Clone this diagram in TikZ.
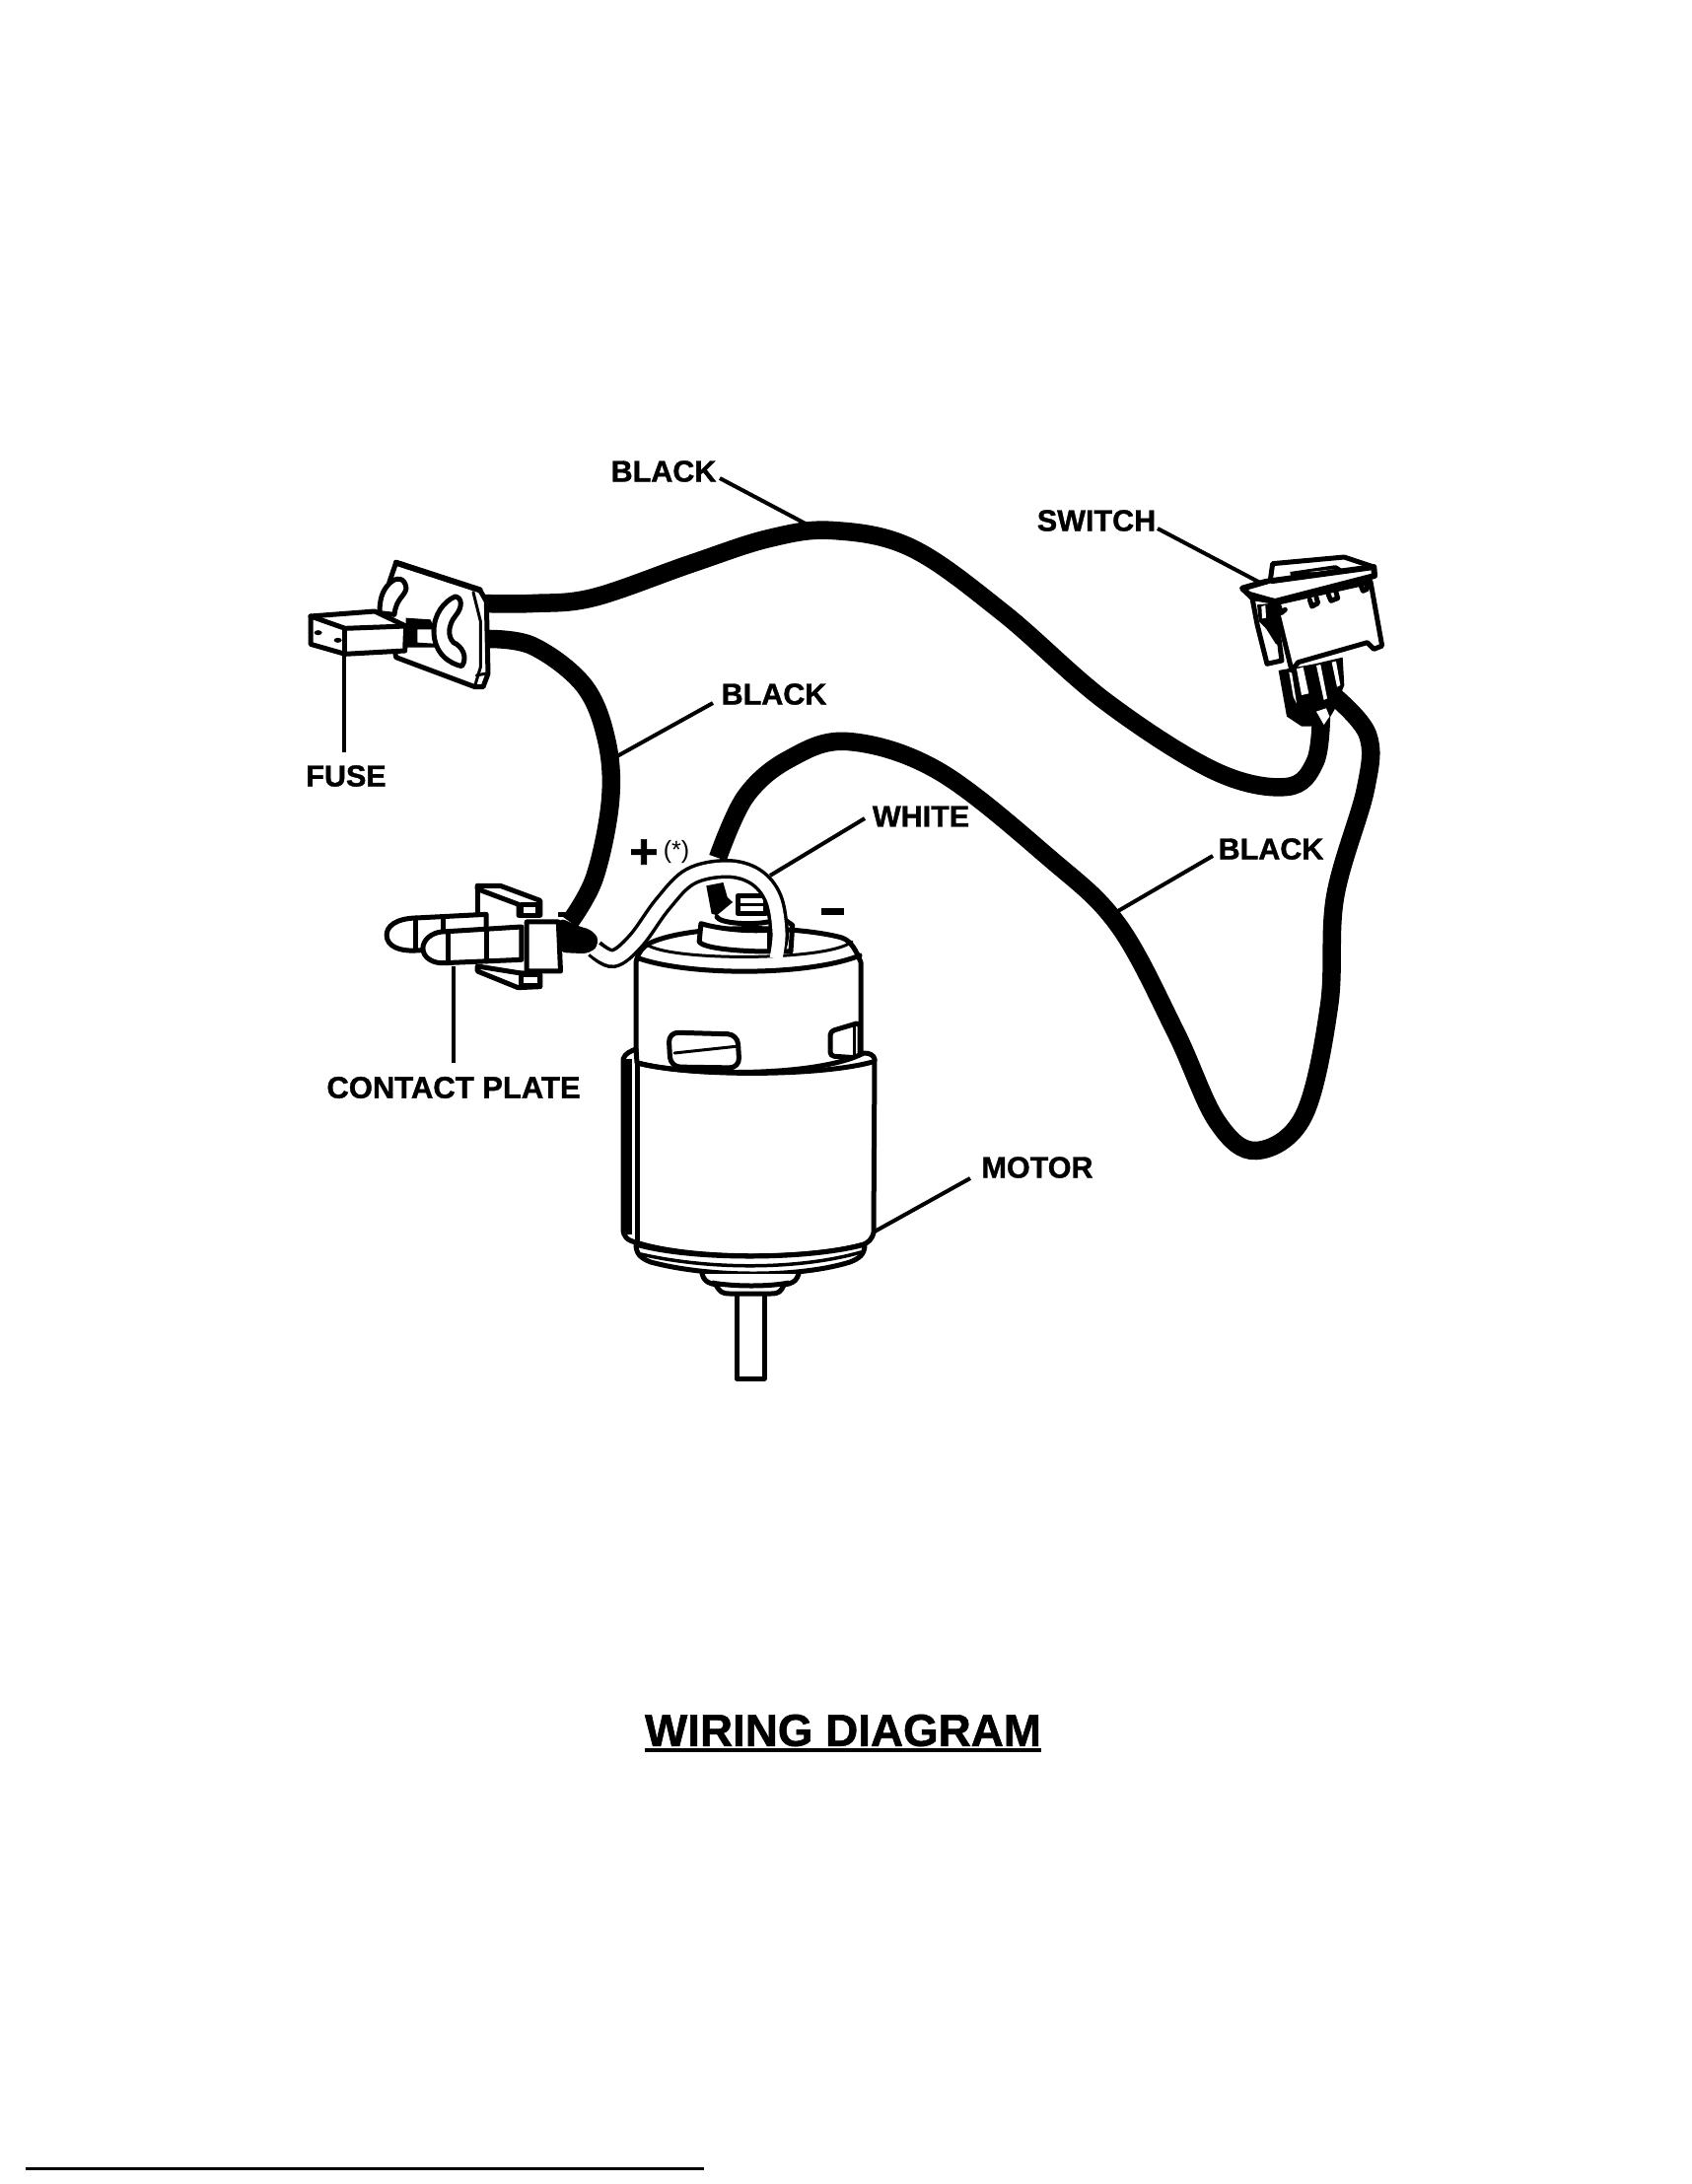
\documentclass[tikz,border=0pt]{standalone}
\usepackage{fontspec}
\setmainfont{Liberation Sans}[BoldFeatures={FakeBold=1.2}]
\tikzset{
  lbl/.style={font=\fontsize{30.5}{32}\selectfont\bfseries,inner sep=0pt},
  leader/.style={line width=4pt,black},
  wire/.style={line width=18.5pt,black},
  ln/.style={line width=5pt,black,line join=round,line cap=round},
  fl/.style={ln,fill=white},
}
\newcommand{\wiresmooth}{plot[smooth,tension=0.6] coordinates}
\begin{document}
\begin{tikzpicture}[x=1pt,y=-1pt]
\useasboundingbox (0,0) rectangle (1715,2215);
\fill[white] (0,0) rectangle (1715,2215);
% ---- wire ends
\coordinate (pA) at (488,612);
\coordinate (pB) at (492,648);
\coordinate (cpIn) at (578,935);
\coordinate (mT) at (728,870);
\coordinate (swL) at (1340,722);
\coordinate (swR) at (1352,705);
% ---- black wires
\draw[wire] \wiresmooth {(pA) (540,612) (602,606) (700,572) (780,546) (845,538) (925,556) (1018,622) (1122,712) (1232,782) (1305,798) (1334,772) (swL)};
\draw[wire] \wiresmooth {(pB) (540,655) (592,695) (615,750) (619,812) (603,890) (cpIn)};
\draw[wire] \wiresmooth {(mT) (756,808) (800,770) (860,752) (952,782) (1064,870) (1134,938) (1192,1046) (1234,1137) (1274,1167) (1322,1132) (1348,1020) (1354,910) (1385,800) (1387,745) (swR)};
% ---- motor upper
\draw[fl] (645,976) -- (645,1085) .. controls (690,1105) and (830,1105) .. (873,1078) -- (873,976) .. controls (866,958) and (860,952) .. (850,950) .. controls (800,938) and (700,938) .. (660,956) .. controls (652,960) and (647,966) .. (645,976) -- cycle;
\draw[ln] (648,972) .. controls (700,990) and (820,990) .. (872,969);
\draw[ln,line width=3pt] (656,958) .. controls (680,975) and (840,975) .. (864,955);
% windows
\draw[ln,rounded corners=10pt] (678,1047) -- (748,1049) -- (750,1083) -- (680,1082) -- cycle;
\draw[ln,line width=3pt] (684,1068) -- (749,1061);
\draw[ln,rounded corners=4pt] (842,1046) -- (872,1037) -- (872,1073) -- (842,1071) -- cycle;
\draw[ln,line width=3pt] (866,1039) -- (866,1073);
% lower body
\draw[fl] (632,1074) .. controls (634,1068) and (640,1066) .. (645,1064) -- (646,1078) .. controls (700,1092) and (830,1092) .. (876,1068) .. controls (882,1068) and (886,1070) .. (887,1074) -- (886,1250) .. controls (884,1258) and (880,1260) .. (876,1262) .. controls (820,1278) and (700,1278) .. (645,1260) .. controls (636,1258) and (632,1254) .. (632,1246) -- cycle;
\fill[black] (632,1074) rectangle (641,1252);
\draw[ln] (646,1078) -- (646,1260);
\draw[ln] (647,1078) .. controls (700,1092) and (830,1092) .. (885,1077);
% flange
\draw[fl] (645,1262) .. controls (645,1272) and (650,1276) .. (660,1280) .. controls (720,1296) and (810,1296) .. (862,1280) .. controls (872,1276) and (877,1272) .. (877,1262) .. controls (820,1278) and (700,1278) .. (645,1262) -- cycle;
\draw[ln,line width=3.5pt] (650,1272) .. controls (720,1288) and (810,1288) .. (873,1270);
% boss and shaft
\draw[fl] (747,1305) rectangle (775,1398);
\draw[fl] (712,1292) .. controls (714,1298) and (716,1300) .. (722,1302) .. controls (740,1306) and (785,1306) .. (800,1302) .. controls (806,1300) and (808,1298) .. (810,1292);
\draw[fl] (726,1303) .. controls (730,1310) and (732,1312) .. (740,1312) -- (782,1312) .. controls (790,1312) and (792,1310) .. (795,1303);
\draw[line width=5pt] (722,1301) .. controls (745,1305) and (780,1305) .. (800,1301);
% terminal
\begin{scope}[shift={(370,830)},x=0.357pt,y=-0.3333pt]
  \draw[fl] (955,320) -- (950,375) .. controls (960,395) and (1060,405) .. (1150,405) -- (1150,340) .. controls (1080,345) and (1000,335) .. (955,320) -- cycle;
  \draw[ln] (1000,300) .. controls (1010,320) and (1100,325) .. (1145,315);
  \draw[fl] (1060,235) rectangle (1140,290);
  \draw[ln,line width=3pt] (1060,262) -- (1140,262);
  \draw[ln] (1150,405) -- (1210,405) -- (1215,325) -- (1195,310);
  \fill (970,205) -- (1018,195) -- (1030,240) -- (1045,255) -- (1000,295) -- (985,290) -- cycle;
\end{scope}
% white wire
\draw[line width=20pt,black] \wiresmooth {(603,962) (622,972) (645,954) (672,917) (700,889) (737,881) (766,889) (784,911) (790,946) (787,962)};
\draw[line width=13pt,white] \wiresmooth {(601,961) (622,972) (645,954) (672,917) (700,889) (737,881) (766,889) (784,911) (790,946) (787,972)};
% ---- contact plate
\begin{scope}[shift={(370,830)},x=0.357pt,y=-0.3333pt]
  \draw[fl] (320,205) -- (385,205) -- (498,250) -- (498,295) -- (437,295) -- (437,262) -- (320,215) -- cycle;
  \draw[fl] (320,290) -- (320,205);
  \draw[fl] (320,450) -- (320,465) -- (435,515) -- (498,512) -- (498,475) -- (437,470) -- cycle;
  \draw[fl] (145,303) .. controls (85,305) and (62,330) .. (62,355) .. controls (62,390) and (100,405) .. (145,402) -- (345,390) -- (345,292) -- cycle;
  \draw[ln] (145,303) -- (145,400);
  \draw[ln] (222,300) -- (222,345);
  \draw[fl] (220,345) .. controls (190,347) and (165,370) .. (165,395) .. controls (165,425) and (195,442) .. (225,440) -- (445,430) -- (445,330) -- cycle;
  \draw[ln] (238,345) -- (238,440);
  \draw[ln] (345,340) -- (345,435);
  \fill (550,285) rectangle (578,300);
  \fill[rounded corners=8pt] (550,300) -- (610,330) -- (650,340) -- (668,380) -- (640,412) -- (550,408) -- cycle;
  \draw[fl] (445,262) rectangle (492,295);
  \draw[fl] (445,475) rectangle (497,510);
  \draw[fl] (460,315) -- (550,315) -- (556,465) -- (460,465) -- cycle;
\end{scope}
% ---- fuse plate and fuse
\begin{scope}[shift={(280,530)},x=0.3333pt,y=-0.3333pt]
  \draw[fl] (345,180) -- (365,122) -- (620,205) -- (640,240) -- (645,460) -- (630,500) -- (605,500) -- (365,410) -- (345,300) -- cycle;
  \draw[ln,line width=6pt] (365,122) -- (620,205);
  \draw[ln,line width=3pt] (600,212) -- (622,300) -- (622,440) -- (605,497);
  \draw[ln,line width=3pt] (610,465) -- (645,458);
  \draw[fl] (345,185) .. controls (365,165) and (392,165) .. (396,200) .. controls (392,225) and (365,230) .. (360,280) -- (315,275) .. controls (315,240) and (320,210) .. (345,185) -- cycle;
  \draw[fl] (545,225) .. controls (565,228) and (570,255) .. (545,285) .. controls (525,310) and (520,345) .. (540,365) .. controls (565,375) and (585,410) .. (565,437) .. controls (530,430) and (480,400) .. (480,330) .. controls (480,280) and (510,240) .. (545,225) -- cycle;
  \fill (395,290) -- (470,295) -- (482,325) -- (430,325) -- (430,365) -- (480,368) -- (490,380) -- (395,380) -- cycle;
  \draw[fl] (105,285) -- (300,270) -- (395,315) -- (392,390) -- (210,400) -- (105,370) -- cycle;
  \draw[ln] (105,285) -- (210,322) -- (395,315);
  \draw[ln] (210,322) -- (210,400);
  \fill (128,335) ellipse (4pt and 2.5pt);
  \fill (188,358) ellipse (4pt and 2.5pt);
\end{scope}
% ---- switch
\begin{scope}[shift={(1220,540)},x=0.3333pt,y=-0.3333pt]
  \fill (340,400) -- (425,380) -- (430,465) -- (400,540) -- (370,590) -- (300,590) -- (255,560) -- (230,420) -- cycle;
  \fill[white] (262,425) -- (275,500) -- (285,520) -- (270,425) -- cycle;
  \fill[white] (285,415) -- (300,495) -- (322,490) -- (305,410) -- cycle;
  \fill[white] (345,405) -- (368,510) -- (378,505) -- (358,402) -- cycle;
  \fill[white] (392,395) -- (408,470) -- (418,465) -- (405,392) -- cycle;
  \fill[white] (345,545) -- (375,535) -- (385,560) -- (368,585) -- cycle;
  \draw[ln,fill=white] (150,200) -- (165,280) -- (195,400) -- (240,390) -- (215,205) -- cycle;
  \fill (165,220) -- (215,215) -- (240,340) -- (210,340) -- (190,290) -- (170,270) -- cycle;
  \fill[white] (178,225) -- (190,222) -- (192,260) -- (180,262) -- cycle;
  \fill[white] (190,290) -- (228,350) -- (205,345) -- cycle;
  \draw[fl] (220,215) -- (510,150) -- (545,345) -- (520,355) -- (500,335) -- (290,395) -- (270,420) -- cycle;
  \draw[fl] (205,145) -- (212,95) -- (430,75) -- (520,105) -- (260,165) -- cycle;
  \fill (265,120) -- (400,100) -- (500,105) -- (330,148) -- (270,155) -- cycle;
  \fill[white] (325,120) -- (400,112) -- (340,122) -- cycle;
  \fill[white] (272,130) -- (330,148) -- (272,158) -- cycle;
  \fill[white] (400,95) -- (440,90) -- (480,108) -- (430,115) -- cycle;
  \draw[fl,line width=6pt] (120,170) -- (190,150) -- (520,105) -- (522,132) -- (220,210) -- (150,198) -- cycle;
  \fill[white] (150,175) -- (205,155) -- (250,170) -- (195,185) -- cycle;
  \draw[ln,line width=3pt] (145,185) -- (215,205);
  \draw[ln] (232,225) -- (238,245) -- (250,235);
  \draw[ln] (325,205) -- (332,225) -- (350,215) -- (345,198);
  \draw[ln] (382,190) -- (390,208) -- (410,200) -- (405,182);
  \draw[ln] (480,160) -- (487,178) -- (500,172) -- (497,152);
\end{scope}
% ---- labels and leaders
\node[lbl] (lb1) at (673,478) {BLACK};
\coordinate (lb1a) at (730,485);
\coordinate (lb1b) at (830,538);
\draw[leader] (lb1a) -- (lb1b);
\node[lbl] (lsw) at (1112,528) {SWITCH};
\coordinate (lswa) at (1174,536);
\coordinate (lswb) at (1280,592);
\draw[leader] (lswa) -- (lswb);
\node[lbl] (lb2) at (785,704) {BLACK};
\coordinate (lb2a) at (723,713);
\coordinate (lb2b) at (624,768);
\draw[leader] (lb2a) -- (lb2b);
\node[lbl] (lfuse) at (351,787) {FUSE};
\coordinate (lfa) at (349,663);
\coordinate (lfb) at (349,763);
\draw[leader] (lfa) -- (lfb);
\node[lbl,font=\fontsize{31}{32}\selectfont\bfseries] (lcp) at (460,1103) {CONTACT PLATE};
\coordinate (lca) at (460,980);
\coordinate (lcb) at (460,1078);
\draw[leader] (lca) -- (lcb);
\node[lbl] (lwh) at (934,828) {WHITE};
\coordinate (lwa) at (877,830);
\coordinate (lwb) at (781,888);
\draw[leader] (lwa) -- (lwb);
\node[lbl] (lb3) at (1289,861) {BLACK};
\coordinate (lb3a) at (1230,868);
\coordinate (lb3b) at (1127,928);
\draw[leader] (lb3a) -- (lb3b);
\node[lbl] (lmo) at (1052,1184) {MOTOR};
\coordinate (lma) at (984,1195);
\coordinate (lmb) at (887,1249);
\draw[leader] (lma) -- (lmb);
\node[lbl,font=\fontsize{50}{50}\selectfont\bfseries] (lplus) at (653,866) {+};
\node[inner sep=0pt,font=\fontsize{25}{28}\selectfont] (last) at (686,864) {(*)};
\fill (833,921) rectangle (856,928);
% ---- title
\node[inner sep=0pt,font=\fontsize{45.8}{48}\selectfont\bfseries] (title) at (855,1755) {WIRING DIAGRAM};
\draw[line width=4pt] ([yshift=-4pt]title.base west) -- ([yshift=-4pt]title.base east);
% ---- page edge line
\coordinate (ea) at (26,2199);
\coordinate (eb) at (714,2199);
\draw[line width=3pt] (ea) -- (eb);
\end{tikzpicture}
\end{document}
